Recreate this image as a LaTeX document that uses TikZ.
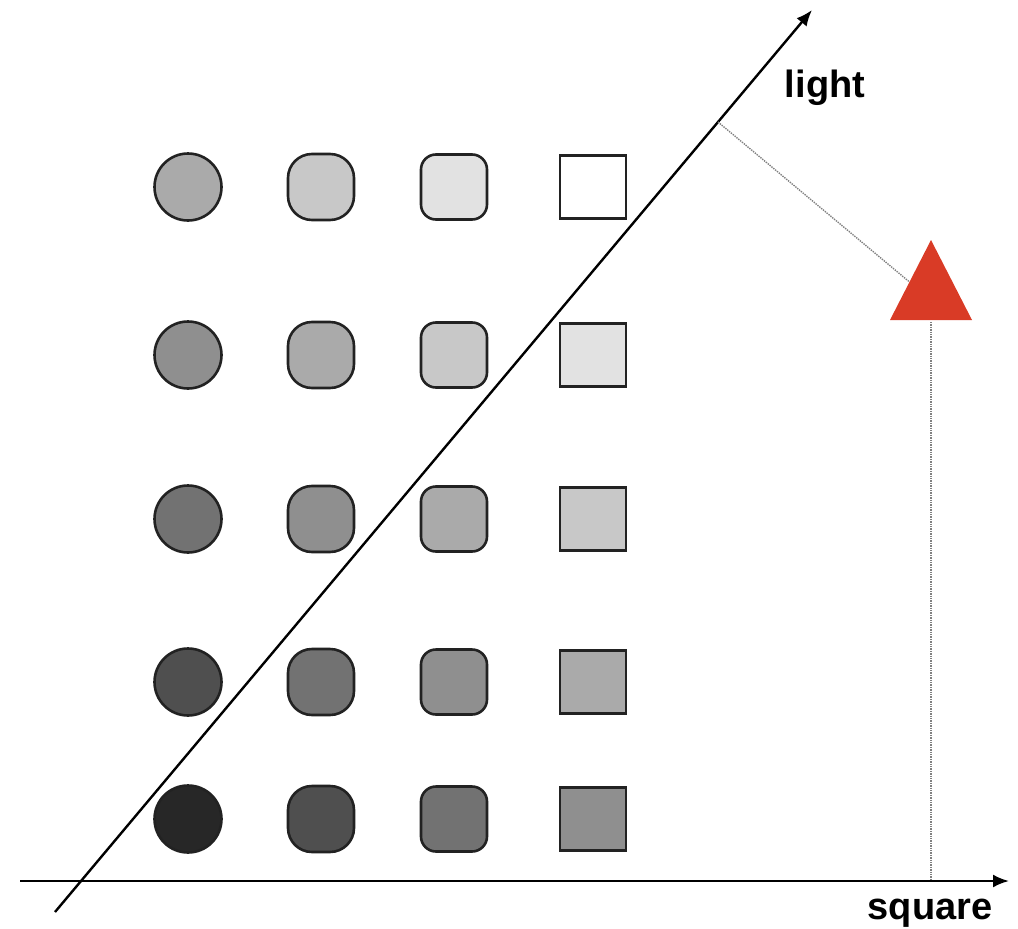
\documentclass[tikz,border=0pt]{standalone}
\usepackage{fontspec}
\setmainfont{Liberation Sans}
\usetikzlibrary{arrows.meta}
\definecolor{g0}{HTML}{272727}
\definecolor{g1}{HTML}{4F4F4F}
\definecolor{g2}{HTML}{727272}
\definecolor{g3}{HTML}{8F8F8F}
\definecolor{g4}{HTML}{AAAAAA}
\definecolor{g5}{HTML}{C8C8C8}
\definecolor{g6}{HTML}{E2E2E2}
\definecolor{g7}{HTML}{FFFFFF}
\definecolor{edge}{HTML}{222222}
\definecolor{tri}{HTML}{D93B26}
\begin{document}
\begin{tikzpicture}[x=1pt,y=-1pt,
  shp/.style={draw=edge, line width=2.6pt, minimum width=66pt, minimum height=63pt, inner sep=0pt},
  shp1/.style={shp, circle, minimum size=67pt},
  shp2/.style={shp, rectangle, rounded corners=24pt, minimum height=66pt},
  shp3/.style={shp, rectangle, rounded corners=15pt, minimum height=65pt},
  shp4/.style={shp, rectangle},
  axis/.style={line width=2.4pt, -{Latex[length=16pt,width=13pt]}},
  guide/.style={gray, line width=1.4pt, densely dotted},
  lbl/.style={font=\fontsize{38}{40}\selectfont\bfseries, anchor=base, inner sep=0pt}]
\useasboundingbox (0,0) rectangle (1018,929);
% shapes
\foreach \r/\yy in {0/187,1/355,2/519,3/682,4/819}{
  \foreach \j/\xx in {1/188,2/321,3/454,4/593}{
    \pgfmathtruncatemacro\lv{4-\r+\j-1}
    \node[shp\j, fill=g\lv] (s\r\j) at (\xx,\yy) {};
  }
}
% axes
\coordinate (hx0) at (20,881);
\coordinate (hx1) at (1009,881);
\coordinate (dx0) at (55,912);
\coordinate (dx1) at (812,10);
\draw[axis] (hx0) -- (hx1);
\draw[axis] (dx0) -- (dx1);
% labels
\node[lbl] (light) at (825,97) {light};
\node[lbl] (square) at (930,919) {square};
% triangle
\coordinate (tA) at (931,240);
\coordinate (tL) at (890,320);
\coordinate (tR) at (972,320);
\fill[tri] (tA) -- (tL) -- (tR) -- cycle;
\coordinate (tSide) at (909.5,282);
\coordinate (tBot) at (931,322);
\coordinate (pL) at (718,122);
\coordinate (pS) at (931,880);
\draw[guide] (pL) -- (tSide);
\draw[guide] (tBot) -- (pS);
\end{tikzpicture}
\end{document}
